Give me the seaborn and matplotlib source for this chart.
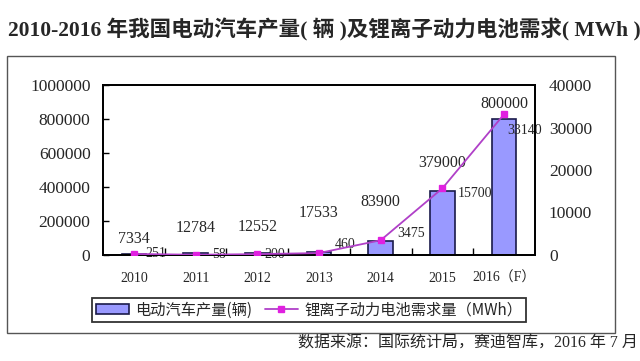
import matplotlib
matplotlib.use("Agg")
import matplotlib.pyplot as plt
import matplotlib.patches as mpatches
from matplotlib.lines import Line2D
from matplotlib.ticker import FixedLocator
import seaborn as sns
import pandas as pd

# ---- data ----
years = ["2010", "2011", "2012", "2013", "2014", "2015", "2016（F）"]
ev_production = [7334, 12784, 12552, 17533, 83900, 379000, 800000]
battery_demand = [251, 58, 200, 460, 3475, 15700, 33140]
left_ticks = [0, 200000, 400000, 600000, 800000, 1000000]
right_ticks = [0, 10000, 20000, 30000, 40000]

title = "2010-2016 年我国电动汽车产量( 辆 )及锂离子动力电池需求( MWh )"
legend_labels = ["电动汽车产量(辆)", "锂离子动力电池需求量（MWh）"]
source = "数据来源：国际统计局，赛迪智库，2016 年 7 月"

# ---- style ----
sns.set_style("white")
SERIF = ["Liberation Serif", "Noto Sans CJK SC"]
CJK = ["Noto Sans CJK SC", "DejaVu Sans"]
plt.rcParams["font.family"] = SERIF

bar_color = "#9999FF"
bar_edge = "#1A1A4A"
line_color = "#B040C8"
marker_color = "#E020E0"

df = pd.DataFrame({"year": years, "ev": ev_production, "bat": battery_demand})

fig = plt.figure(figsize=(6.4, 3.61), dpi=100)
ax = fig.add_axes([103 / 640, 1 - 255 / 361, (535 - 103) / 640, (255 - 85) / 361])
ax2 = ax.twinx()

sns.barplot(data=df, x="year", y="ev", ax=ax, color=bar_color, width=0.4,
            edgecolor=bar_edge, linewidth=1.2, saturation=1, zorder=2)
sns.pointplot(data=df, x="year", y="bat", ax=ax2, color=line_color,
              markers="s", markersize=5, linewidth=1.3)
for ln in ax2.lines:
    ln.set_markerfacecolor(marker_color)
    ln.set_markeredgecolor(marker_color)
    ln.set_zorder(3)

ax.set_ylim(0, 1000000)
ax2.set_ylim(0, 40000)
ax.set_xlim(-0.5, len(years) - 0.5)
ax.set_yticks(left_ticks)
ax.set_yticklabels([str(v) for v in left_ticks], fontsize=12.5)
ax2.set_yticks(right_ticks)
ax2.set_yticklabels([str(v) for v in right_ticks], fontsize=12.5)
ax.set_xticks(range(len(years)))
ax.set_xticklabels(years, fontsize=10)
ax.xaxis.set_minor_locator(FixedLocator([i + 0.5 for i in range(len(years) - 1)]))
ax.tick_params(axis="x", which="major", length=0, pad=12)
ax.tick_params(axis="x", which="minor", direction="in", length=5, width=1, color="black", bottom=True)
ax.tick_params(axis="y", direction="in", length=4, width=1, color="black", pad=9, left=True)
ax2.tick_params(axis="y", length=0, pad=10, right=True)
ax.set_xlabel("")
ax.set_ylabel("")
ax2.set_ylabel("")
for a in (ax, ax2):
    for s in a.spines.values():
        s.set_color("black")
        s.set_linewidth(1.3)
    a.grid(False)

# bar labels
bar_pads = [5, 12, 13, 22, 22, 14, 5]
container = ax.containers[0]
for rect, v, p in zip(container, ev_production, bar_pads):
    ax.annotate(str(v), (rect.get_x() + rect.get_width() / 2, rect.get_height()),
                xytext=(0, p), textcoords="offset points", ha="center", va="bottom",
                fontsize=11.5, zorder=4)

# line labels (drawn under the line)
line_offsets = [(8, 0), (12, 0), (5, 0), (11, 6), (12, 5), (11, -4), (2, -12)]
for i, (v, off) in enumerate(zip(battery_demand, line_offsets)):
    ax2.annotate(str(v), (i, v), xytext=off, textcoords="offset points",
                 ha="left", va="center", fontsize=10, zorder=1)

# outer frame
fig.patches.append(mpatches.Rectangle((7 / 640, 1 - 333 / 361), (615 - 7) / 640, (333 - 56) / 361,
                                      transform=fig.transFigure, fill=False,
                                      edgecolor="#555555", linewidth=1))

# title
fig.text(8 / 640, 1 - 30 / 361, title, ha="left", va="center", fontsize=15.5,
         fontweight="bold", family=SERIF)

# legend
handles = [mpatches.Patch(facecolor=bar_color, edgecolor=bar_edge, linewidth=1.2),
           Line2D([], [], color=line_color, lw=1.3, marker="s", markersize=4,
                  markerfacecolor=marker_color, markeredgecolor=marker_color)]
leg = fig.legend(handles, legend_labels, loc="center", ncol=2,
                 bbox_to_anchor=((80 + 538) / 2 / 640, 1 - 310 / 361),
                 frameon=True, fancybox=False, edgecolor="black",
                 prop={"family": CJK, "size": 11}, handlelength=2.2,
                 handleheight=0.6, columnspacing=0.8, handletextpad=0.4,
                 borderpad=0.25)
leg.get_frame().set_linewidth(1.3)

# source
fig.text(638 / 640, 1 - 344 / 361, source, ha="right", va="center", fontsize=11.5,
         family=SERIF)

fig.savefig("out.png", dpi=100)
